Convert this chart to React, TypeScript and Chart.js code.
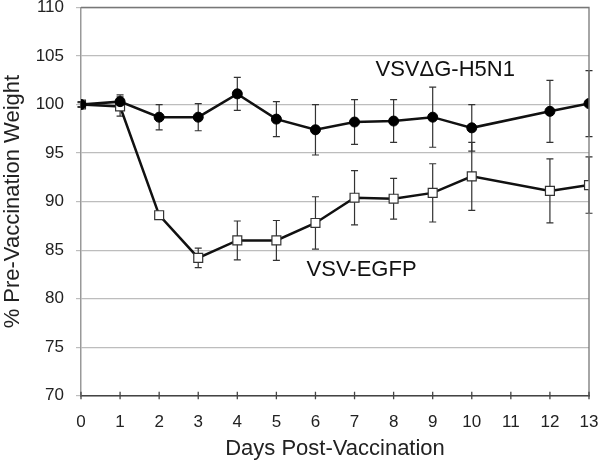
import React, { useEffect, useRef } from "react";
import { Chart, registerables } from "chart.js";

Chart.register(...registerables);

const days = [0, 1, 2, 3, 4, 5, 6, 7, 8, 9, 10, 12, 13];
const h5n1 = [100.0, 100.3, 98.7, 98.7, 101.1, 98.5, 97.4, 98.2, 98.3, 98.7, 97.6, 99.3, 100.1];
const h5n1Err = [0.3, 0.7, 1.3, 1.4, 1.7, 1.8, 2.6, 2.3, 2.2, 3.1, 2.4, 3.2, 3.4];
const egfp = [100.0, 99.8, 88.6, 84.2, 86.0, 86.0, 87.8, 90.4, 90.3, 90.9, 92.6, 91.1, 91.7];
const egfpErr = [0.2, 1.0, 0.3, 1.0, 2.0, 2.05, 2.7, 2.8, 2.1, 3.0, 3.5, 3.3, 2.9];
const xTicks = [0, 1, 2, 3, 4, 5, 6, 7, 8, 9, 10, 11, 12, 13];
const seriesLabels = ["VSV\u0394G-H5N1", "VSV-EGFP"];
const xTitle = "Days Post-Vaccination";
const yTitle = "% Pre-Vaccination Weight";

const FONT = "'Liberation Sans', Arial, Helvetica, sans-serif";

const errorBarPlugin = {
  id: "errorBars",
  beforeDatasetsDraw(chart: any) {
    const { ctx, scales } = chart;
    const xs = scales.x;
    const ys = scales.y;
    const errs = [h5n1Err, egfpErr];
    const vals = [h5n1, egfp];
    ctx.save();
    ctx.strokeStyle = "#333";
    ctx.lineWidth = 1.2;
    for (let s = 0; s < 2; s++) {
      for (let i = 0; i < days.length; i++) {
        const px = xs.getPixelForValue(days[i]);
        const top = ys.getPixelForValue(vals[s][i] + errs[s][i]);
        const bot = ys.getPixelForValue(vals[s][i] - errs[s][i]);
        ctx.beginPath();
        ctx.moveTo(px, top);
        ctx.lineTo(px, bot);
        ctx.moveTo(px - 3.5, top);
        ctx.lineTo(px + 3.5, top);
        ctx.moveTo(px - 3.5, bot);
        ctx.lineTo(px + 3.5, bot);
        ctx.stroke();
      }
    }
    ctx.restore();
  },
  afterDraw(chart: any) {
    const { ctx, scales, chartArea } = chart;
    const xs = scales.x;
    const ys = scales.y;
    ctx.save();
    ctx.strokeStyle = "#777";
    ctx.lineWidth = 1.3;
    ctx.beginPath();
    ctx.moveTo(chartArea.left, chartArea.top);
    ctx.lineTo(chartArea.right, chartArea.top);
    ctx.lineTo(chartArea.right, chartArea.bottom);
    ctx.stroke();
    ctx.strokeStyle = "#444";
    ctx.lineWidth = 1.3;
    ctx.beginPath();
    for (const t of xTicks) {
      const px = xs.getPixelForValue(t);
      ctx.moveTo(px, chartArea.bottom - 4);
      ctx.lineTo(px, chartArea.bottom + 3.5);
    }
    ctx.stroke();
    ctx.fillStyle = "#111";
    ctx.font = `22px ${FONT}`;
    ctx.textAlign = "center";
    ctx.textBaseline = "middle";
    ctx.fillText(seriesLabels[0], xs.getPixelForValue(9.32), ys.getPixelForValue(103.6));
    ctx.fillText(seriesLabels[1], xs.getPixelForValue(7.18), ys.getPixelForValue(83.0));
    ctx.restore();
  },
};

export default function App() {
  const ref = useRef<HTMLCanvasElement>(null);
  useEffect(() => {
    document.body.style.margin = "0";
    const chart = new Chart(ref.current!, {
      type: "line",
      data: {
        datasets: [
          {
            label: seriesLabels[0],
            data: days.map((d, i) => ({ x: d, y: h5n1[i] })),
            borderColor: "#111",
            borderWidth: 2.5,
            pointStyle: "circle",
            pointRadius: 5,
            pointBackgroundColor: "#000",
            pointBorderColor: "#000",
            pointBorderWidth: 1,
            tension: 0,
          },
          {
            label: seriesLabels[1],
            data: days.map((d, i) => ({ x: d, y: egfp[i] })),
            borderColor: "#111",
            borderWidth: 2.5,
            pointStyle: "rect",
            pointRadius: 6.3,
            pointBackgroundColor: "#fff",
            pointBorderColor: "#333",
            pointBorderWidth: 1.2,
            tension: 0,
          },
        ],
      },
      options: {
        animation: false,
        responsive: true,
        maintainAspectRatio: false,
        layout: { padding: { left: 0, right: 11, top: 7, bottom: 0 } },
        plugins: { legend: { display: false }, tooltip: { enabled: false } },
        scales: {
          x: {
            type: "linear",
            min: 0,
            max: 13,
            ticks: {
              stepSize: 1,
              padding: 8,
              color: "#222",
              font: { size: 17, family: FONT },
              maxRotation: 0,
            },
            grid: { display: false },
            border: { display: true, color: "#444", width: 1.5 },
            title: {
              display: true,
              text: xTitle,
              color: "#222",
              font: { size: 22, family: FONT },
              padding: { top: 0, bottom: 1 },
            },
            afterFit(scale: any) {
              scale.height = 67.3;
              scale.paddingLeft = 0;
              scale.paddingRight = 0;
            },
          },
          y: {
            min: 70,
            max: 110,
            ticks: {
              stepSize: 5,
              padding: 12,
              color: "#222",
              font: { size: 17, family: FONT },
            },
            grid: { color: "#bdbdbd", lineWidth: 1.2, tickLength: 5 },
            border: { display: true, color: "#999", width: 1.5 },
            title: {
              display: true,
              text: yTitle,
              color: "#222",
              font: { size: 22, family: FONT },
              padding: { top: 0, bottom: 0 },
            },
            afterFit(scale: any) {
              scale.width = 81;
              scale.paddingTop = 0;
              scale.paddingBottom = 0;
            },
          },
        },
      },
      plugins: [errorBarPlugin],
    });
    return () => chart.destroy();
  }, []);
  return (
    <div style={{ width: 600, height: 463, position: "relative" }}>
      <canvas ref={ref} />
    </div>
  );
}
